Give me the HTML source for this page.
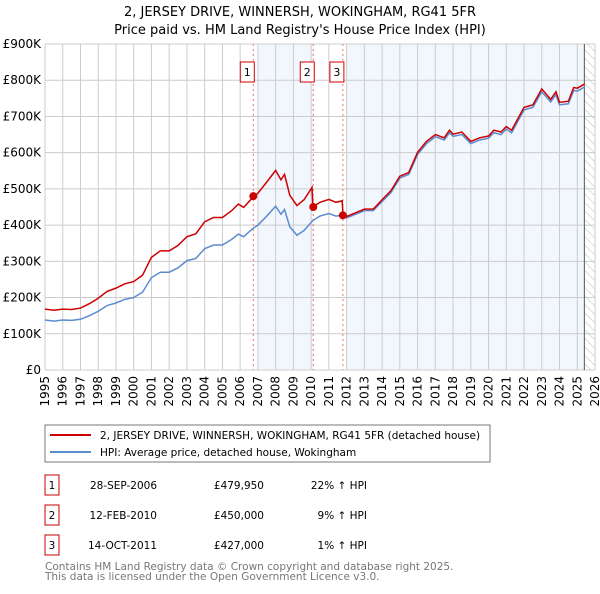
<!DOCTYPE html>
<html><head><meta charset="utf-8"><style>
body{margin:0;background:#fff;width:600px;height:590px;overflow:hidden;font-family:"DejaVu Sans","Liberation Sans",sans-serif;}
svg text{font-family:"DejaVu Sans","Liberation Sans",sans-serif;}
</style></head><body>
<svg id="c" width="600" height="590">
<defs><pattern id="hatch" width="6" height="6" patternUnits="userSpaceOnUse" patternTransform="rotate(-45)"><line x1="0" y1="0" x2="0" y2="6" stroke="#bbb" stroke-width="1"/></pattern></defs>
<text x="300" y="16" text-anchor="middle" font-size="13">2, JERSEY DRIVE, WINNERSH, WOKINGHAM, RG41 5FR</text>
<text x="300" y="34" text-anchor="middle" font-size="13">Price paid vs. HM Land Registry's House Price Index (HPI)</text>
<g id="plot"></g>
<rect x="45" y="425" width="445" height="37" fill="#fff" stroke="#777"/>
<line x1="50" y1="435" x2="91" y2="435" stroke="#cc0000" stroke-width="2"/>
<text x="100" y="439" font-size="10.5">2, JERSEY DRIVE, WINNERSH, WOKINGHAM, RG41 5FR (detached house)</text>
<line x1="50" y1="452" x2="91" y2="452" stroke="#5b8bd0" stroke-width="2"/>
<text x="100" y="456" font-size="10.5">HPI: Average price, detached house, Wokingham</text>
<g id="tbl" font-size="10.5"></g>
<text x="45" y="570" font-size="10.5" fill="#777">Contains HM Land Registry data © Crown copyright and database right 2025.</text>
<text x="45" y="580" font-size="10.5" fill="#777">This data is licensed under the Open Government Licence v3.0.</text>
</svg>
<script>
const hpiYears=[1995.0,1995.5,1996.0,1996.5,1997.0,1997.5,1998.0,1998.5,1999.0,1999.5,2000.0,2000.5,2001.0,2001.5,2002.0,2002.5,2003.0,2003.5,2004.0,2004.5,2005.0,2005.5,2005.9,2006.2,2006.7,2007.0,2007.5,2008.0,2008.3,2008.5,2008.8,2009.2,2009.6,2010.1,2010.5,2011.0,2011.4,2011.8,2012.0,2012.5,2013.0,2013.5,2014.0,2014.5,2015.0,2015.5,2016.0,2016.5,2017.0,2017.5,2017.8,2018.0,2018.5,2019.0,2019.5,2020.0,2020.3,2020.7,2021.0,2021.3,2022.0,2022.5,2023.0,2023.5,2023.8,2024.0,2024.5,2024.8,2025.0,2025.4];
const hpiValues=[138,135,138,137,140,150,162,178,185,195,200,215,255,270,270,282,302,308,335,345,345,360,375,368,390,400,425,452,430,443,395,372,385,413,425,432,425,428,420,430,440,440,465,490,530,540,595,625,644,635,655,645,650,625,635,640,655,650,665,655,718,725,768,740,760,732,735,772,770,781];
const ppYears=[1995.0,1995.5,1996.0,1996.5,1997.0,1997.5,1998.0,1998.5,1999.0,1999.5,2000.0,2000.5,2001.0,2001.5,2002.0,2002.5,2003.0,2003.5,2004.0,2004.5,2005.0,2005.5,2005.9,2006.2,2006.7,2007.0,2007.5,2008.0,2008.3,2008.5,2008.8,2009.2,2009.6,2010.05,2010.1,2010.5,2011.0,2011.4,2011.75,2011.8,2012.0,2012.5,2013.0,2013.5,2014.0,2014.5,2015.0,2015.5,2016.0,2016.5,2017.0,2017.5,2017.8,2018.0,2018.5,2019.0,2019.5,2020.0,2020.3,2020.7,2021.0,2021.3,2022.0,2022.5,2023.0,2023.5,2023.8,2024.0,2024.5,2024.8,2025.0,2025.4];
const ppValues=[168,165,168,167,171,183,198,217,226,238,244,262,311,329,329,344,368,376,409,421,421,439,458,449,476,488,519,551,525,540,482,454,470,504,450,463,471,463,467,427,424,434,444,444,470,495,535,545,601,631,650,641,662,651,657,631,641,646,662,657,672,662,725,732,776,747,768,739,742,780,778,789];
const saleLabels=["1","2","3"];
const saleYears=[2006.74,2010.12,2011.79];
const salePrices=[479.95,450,427];
const saleDates=["28-SEP-2006","12-FEB-2010","14-OCT-2011"];
const salePriceText=["£479,950","£450,000","£427,000"];
const saleHpiText=["22% ↑ HPI","9% ↑ HPI","1% ↑ HPI"];
const yTicks=[0,100,200,300,400,500,600,700,800,900];
const yTickLabels=["£0","£100K","£200K","£300K","£400K","£500K","£600K","£700K","£800K","£900K"];
const shadeRanges=[[2007.0,2010.12],[2012.0,2025.4]];
const ns="http://www.w3.org/2000/svg";
const L=45,R=595,T=44,B=370,Y0=1995,Y1=2026,VMAX=900;
const X=y=>L+(y-Y0)/(Y1-Y0)*(R-L);
const Y=v=>B-v/VMAX*(B-T);
const g=document.getElementById('plot');
function mk(t,a,p){const e=document.createElementNS(ns,t);for(const k in a)e.setAttribute(k,a[k]);(p||g).appendChild(e);return e;}
for(const r of shadeRanges){const e=mk('rect',{x:X(r[0]),y:T,width:X(r[1])-X(r[0]),height:B-T,fill:'#eef3fc',opacity:0.75});

}
const h=mk('rect',{x:X(2025.4),y:T,width:R-X(2025.4),height:B-T,fill:'url(#hatch)'});


for(let yr=Y0;yr<=Y1;yr++){const e=mk('line',{x1:X(yr),x2:X(yr),y1:T,y2:B,stroke:'#ccc'});


const t=mk('text',{x:0,y:0,'font-size':12,'text-anchor':'end',transform:`translate(${X(yr)+4},${B+6}) rotate(-90)`});t.textContent=yr;

}
yTicks.forEach((v,i)=>{const e=mk('line',{x1:L,x2:R,y1:Y(v),y2:Y(v),stroke:'#ccc'});


const t=mk('text',{x:L-4,y:Y(v)+4,'font-size':12,'text-anchor':'end'});t.textContent=yTickLabels[i];

});
const a=mk('line',{x1:X(2025.4),x2:X(2025.4),y1:T,y2:B,stroke:'#555'});


saleYears.forEach((yr,i)=>{const e=mk('line',{x1:X(yr),x2:X(yr),y1:T,y2:B,stroke:'#f07070','stroke-dasharray':'2,3'});


const bx=mk('rect',{x:X(yr)-13,y:62,width:14,height:20,fill:'#fff',stroke:'#cc0000'});


const t=mk('text',{x:X(yr)-6,y:76,'font-size':11,'text-anchor':'middle'});t.textContent=saleLabels[i];

});
const n=Math.min(ppYears.length,ppValues.length);
const hp=mk('polyline',{points:hpiYears.map((y,i)=>X(y)+','+Y(hpiValues[i])).join(' '),fill:'none',stroke:'#5b8bd0','stroke-width':1.5});


const pp=mk('polyline',{points:ppYears.slice(0,n).map((y,i)=>X(y)+','+Y(ppValues[i])).join(' '),fill:'none',stroke:'#cc0000','stroke-width':1.5});


saleYears.forEach((yr,i)=>{const c=mk('circle',{cx:X(yr),cy:Y(salePrices[i]),r:4,fill:'#cc0000'});

});
const tb=document.getElementById('tbl');
saleLabels.forEach((s,i)=>{const yy=485+i*30;
const b=mk('rect',{x:45,y:yy-10,width:14,height:20,fill:'#fff',stroke:'#cc0000'},tb);


const cells=[[52,'middle',s],[157,'end',saleDates[i]],[264,'end',salePriceText[i]],[367,'end',saleHpiText[i]]];
for(const c of cells){const t=mk('text',{x:c[0],y:yy+4,'text-anchor':c[1]},tb);t.textContent=c[2];

}});
</script>
</body></html>
